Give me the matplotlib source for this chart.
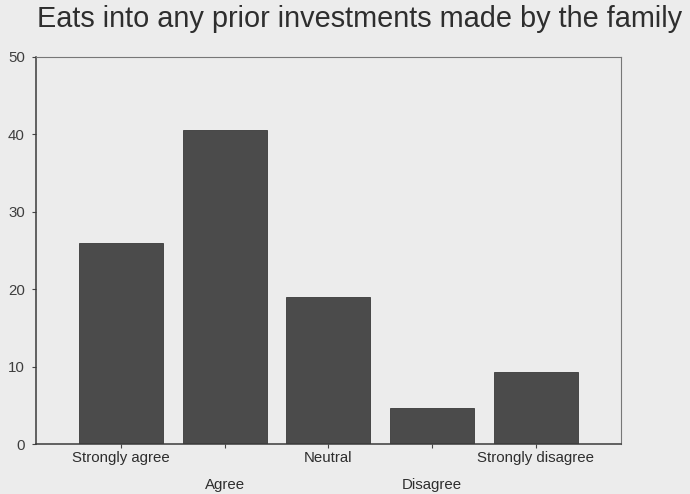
import matplotlib
matplotlib.use("Agg")
import matplotlib.pyplot as plt

categories = ["Strongly agree", "Agree", "Neutral", "Disagree", "Strongly disagree"]
percent = [26.0, 40.6, 19.0, 4.6, 9.3]
title = "Eats into any prior investments made by the family"

plt.rcParams["font.family"] = ["Liberation Sans", "DejaVu Sans"]

bg = "#ececec"
bar_color = "#4b4b4b"

fig = plt.figure(figsize=(6.9, 4.94), dpi=100, facecolor=bg)
ax = fig.add_axes([0.052, 0.101, 0.848, 0.784], facecolor=bg)

x = list(range(len(categories)))
ax.bar(x, percent, width=0.81, color=bar_color, edgecolor="#3a3a3a", linewidth=0.6)

ax.set_xlim(-0.82, 4.82)
ax.set_ylim(0, 50)
ax.set_yticks([0, 10, 20, 30, 40, 50])
ax.set_xticks(x)
# alternate labels onto two rows so the long ones don't collide
labels = [c if i % 2 == 0 else "\n" + c for i, c in enumerate(categories)]
ax.set_xticklabels(labels, fontsize=10.8, color="#2e2e2e", linespacing=2.2)
ax.tick_params(axis="y", labelsize=10.8, labelcolor="#3e3e3e", length=3,
               color="#444444", width=0.8, pad=5)
ax.tick_params(axis="x", length=3, color="#444444", width=0.8, pad=2)

for side in ("left", "bottom"):
    ax.spines[side].set_color("#3a3a3a")
    ax.spines[side].set_linewidth(1.1)
for side in ("top", "right"):
    ax.spines[side].set_color("#777777")
    ax.spines[side].set_linewidth(0.8)

fig.text(0.053, 0.961, title, fontsize=20.8, color="#2e2e2e", ha="left", va="center")

fig.savefig("out.png", dpi=100, facecolor=bg)
